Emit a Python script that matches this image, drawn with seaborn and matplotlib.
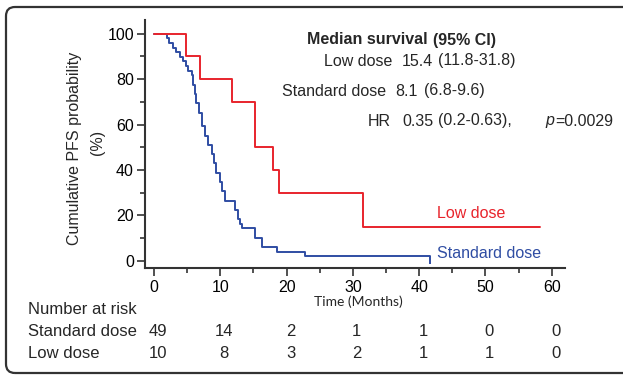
import numpy as np
import pandas as pd
import matplotlib
matplotlib.use("Agg")
import matplotlib.pyplot as plt
import seaborn as sns
from matplotlib.patches import FancyBboxPatch
from matplotlib.transforms import IdentityTransform, blended_transform_factory

# ---------------- data ----------------
groups = ["Standard dose", "Low dose"]

std_times = [0, 2.0, 2.2, 2.8, 3.3, 3.9, 4.4, 4.8, 5.2, 5.7, 5.9, 6.2, 6.4, 6.8,
             7.2, 7.7, 8.2, 8.7, 9.0, 9.4, 9.9, 10.2, 10.7, 12.2, 12.6, 12.9,
             13.2, 15.2, 16.3, 18.5, 22.8, 41.7]
std_surv = [100, 98.0, 95.9, 93.9, 91.8, 89.8, 87.8, 85.7, 83.7, 81.6, 77.6,
            73.5, 69.4, 65.3, 59.2, 55.1, 51.0, 46.9, 42.9, 38.8, 34.7, 30.6,
            26.5, 22.4, 18.4, 16.3, 14.3, 10.2, 6.1, 4.1, 2.0, 2.0]

low_times = [0, 4.9, 6.9, 11.7, 15.3, 17.9, 18.9, 31.6, 58.3]
low_surv = [100, 90, 80, 70, 50, 40, 30, 15, 15]

risk_times = [0, 10, 20, 30, 40, 50, 60]
risk_std = [49, 14, 2, 1, 1, 0, 0]
risk_low = [10, 8, 3, 2, 1, 1, 0]

x_ticks = [0, 10, 20, 30, 40, 50, 60]
y_ticks = [0, 20, 40, 60, 80, 100]

stats_rows = [
    ("Low dose", "15.4", "(11.8-31.8)"),
    ("Standard dose", "8.1", "(6.8-9.6)"),
]

# ---------------- style ----------------
sns.set_style("ticks")
plt.rcParams["font.family"] = ["Liberation Sans", "DejaVu Sans"]

BLUE = "#2f4da3"
RED = "#e8242c"
AX = "#333333"
W, H = 623, 376

fig = plt.figure(figsize=(W / 100, H / 100), dpi=100)
ax = fig.add_axes([145 / W, 1 - 268 / H, (565 - 145) / W, (268 - 20) / H])

df = pd.concat([
    pd.DataFrame({"Time": std_times, "Survival": std_surv, "Group": groups[0]}),
    pd.DataFrame({"Time": low_times, "Survival": low_surv, "Group": groups[1]}),
], ignore_index=True)

sns.lineplot(data=df, x="Time", y="Survival", hue="Group", hue_order=groups,
             palette=[BLUE, RED], estimator=None, sort=False,
             drawstyle="steps-post", lw=1.4, legend=False, ax=ax)
# censor tick at end of standard-dose curve
ax.plot([std_times[-1]], [std_surv[-1]], marker=3, ms=6, mew=1.4, color=BLUE)

ax.set_xlim(-1.36, 62.0)
ax.set_ylim(-3.1, 106)
ax.set_xticks(x_ticks)
ax.set_xticks([5, 15, 25, 35, 45, 55], minor=True)
ax.set_yticks(y_ticks)
ax.set_yticks([10, 30, 50, 70, 90], minor=True)
ax.set_xlabel("")
ax.set_ylabel("")
for s in ["top", "right"]:
    ax.spines[s].set_visible(False)
for s in ["left", "bottom"]:
    ax.spines[s].set_color(AX)
    ax.spines[s].set_linewidth(1.5)
ax.tick_params(axis="both", which="major", length=6, width=1.2, color=AX,
               labelsize=11.5, labelcolor="black", direction="out")
ax.tick_params(axis="both", which="minor", length=3.5, width=1.2, color=AX,
               direction="out")
ax.tick_params(axis="x", pad=2.5)
ax.tick_params(axis="y", pad=2)


def ftext(px, py, s, **kw):
    kw.setdefault("va", "center")
    kw.setdefault("fontsize", 11.5)
    fig.text(px / W, 1 - py / H, s, **kw)


# y label
ftext(75, 148, "Cumulative PFS probability", rotation=90, ha="center", fontsize=11.5)
ftext(97, 142, "(%)", rotation=90, ha="center", fontsize=11.5)
# x label
ftext(358, 302, "Time (Months)", ha="center", fontsize=10,
      family=["Lato", "DejaVu Sans"])

# statistics block
ftext(307, 40, "Median survival", ha="left", fontweight="bold")
ftext(433, 40, "(95% CI)", ha="left", fontweight="bold")
ftext(392, 61, stats_rows[0][0], ha="right")
ftext(433, 61, stats_rows[0][1], ha="right")
ftext(438, 61, stats_rows[0][2], ha="left")
ftext(386, 91, stats_rows[1][0], ha="right")
ftext(418, 91, stats_rows[1][1], ha="right")
ftext(424, 91, stats_rows[1][2], ha="left")
ftext(391, 121, "HR", ha="right")
ftext(433, 121, "0.35", ha="right")
ftext(438, 121, "(0.2-0.63),", ha="left")
ftext(545, 121, "p", ha="left", style="italic")
ftext(555, 121, "=0.0029", ha="left")

# curve labels
ftext(437, 214, "Low dose", ha="left", color=RED)
ftext(437, 253, "Standard dose", ha="left", color=BLUE)

# number at risk table
trans = blended_transform_factory(ax.transData, fig.transFigure)
ftext(28, 309, "Number at risk", ha="left", fontsize=12)
ftext(28, 331, groups[0], ha="left", fontsize=12)
ftext(28, 354, groups[1], ha="left", fontsize=12)
for t, a, b in zip(risk_times, risk_std, risk_low):
    ax.text(t + 0.6, 1 - 331 / H, str(a), transform=trans, ha="center",
            va="center", fontsize=12, clip_on=False)
    ax.text(t + 0.6, 1 - 354 / H, str(b), transform=trans, ha="center",
            va="center", fontsize=12, clip_on=False)

# rounded frame
frame = FancyBboxPatch((6, H - 373), 700, 366,
                       boxstyle="round,pad=0,rounding_size=9",
                       transform=IdentityTransform(), fill=False,
                       ec=AX, lw=1.6)
fig.add_artist(frame)

fig.savefig("out.png", dpi=100)
